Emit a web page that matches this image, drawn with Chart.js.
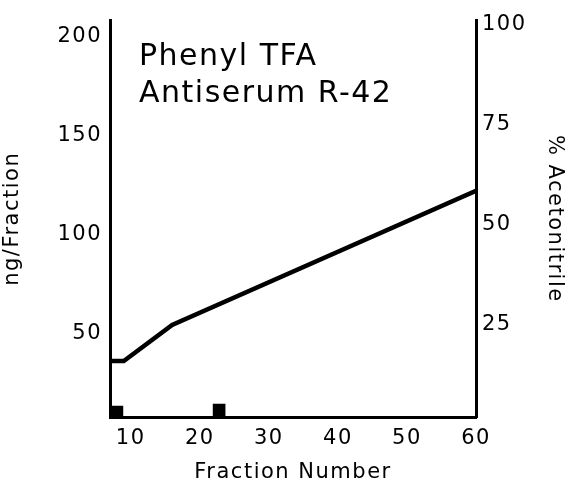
<!DOCTYPE html>
<html>
<head>
<meta charset="utf-8">
<script src="https://cdn.jsdelivr.net/npm/chart.js@4/dist/chart.umd.min.js"></script>
<style>
  html, body { margin: 0; padding: 0; background: #fff; }
  #wrap { width: 567px; height: 491px; }
</style>
</head>
<body>
<div id="wrap"><canvas id="c" width="567" height="491"></canvas></div>
<script>
// Fraction numbers and measured amounts (ng/Fraction)
const barFractions = [8, 22.8];
const barAmounts = [13.5, 14.5];

// Acetonitrile gradient (% Acetonitrile) by fraction number
const gradFractions = [7, 9, 16, 60];
const gradPercent = [16, 16, 25, 58.5];

// Axis tick labels
const xTicks = [10, 20, 30, 40, 50, 60];
const leftTicks = [50, 100, 150, 200];
const rightTicks = [25, 50, 75, 100];

const titleLines = ['Phenyl TFA', 'Antiserum R-42'];

const FONT = "'DejaVu Sans', sans-serif";
const INK = '#000';

const spacing = {
  id: 'spacing',
  beforeUpdate(chart) { chart.ctx.letterSpacing = '1.5px'; },
  beforeDraw(chart) { chart.ctx.letterSpacing = '1.5px'; }
};

const caption = {
  id: 'caption',
  afterDraw(chart) {
    const { ctx, chartArea } = chart;
    ctx.save();
    ctx.fillStyle = INK;
    ctx.font = '30px ' + FONT;
    ctx.textAlign = 'left';
    ctx.textBaseline = 'alphabetic';
    titleLines.forEach((t, i) => {
      ctx.fillText(t, chartArea.left + 29, chartArea.top + 44 + i * 37);
    });
    ctx.restore();
  }
};

const fixed = (prop, v) => (scale) => { scale[prop] = v; };

new Chart(document.getElementById('c'), {
  type: 'bar',
  data: {
    datasets: [
      {
        type: 'line',
        data: gradFractions.map((x, i) => ({ x, y: gradPercent[i] })),
        yAxisID: 'y1',
        borderColor: INK,
        borderWidth: 4.5,
        pointRadius: 0,
        tension: 0,
        fill: false
      },
      {
        type: 'bar',
        data: barFractions.map((x, i) => ({ x, y: barAmounts[i] })),
        yAxisID: 'y',
        backgroundColor: INK,
        borderWidth: 0,
        barThickness: [6, 12]
      }
    ]
  },
  options: {
    responsive: false,
    animation: false,
    layout: { padding: { top: 15, right: 0, left: 0, bottom: 0 } },
    plugins: { legend: { display: false }, tooltip: { enabled: false } },
    scales: {
      x: {
        type: 'linear',
        min: 7, max: 60,
        offset: false,
        grid: { display: false, drawTicks: false, offset: false },
        border: { color: INK, width: 3 },
        afterBuildTicks: (s) => { s.ticks = xTicks.map(v => ({ value: v })); },
        afterFit: fixed('height', 74),
        ticks: { color: INK, font: { family: FONT, size: 21 }, padding: 9, maxRotation: 0, autoSkip: false },
        title: { display: true, text: 'Fraction Number', color: INK, font: { family: FONT, size: 21 }, padding: { top: 0, bottom: 6 } }
      },
      y: {
        position: 'left',
        min: 8, max: 208,
        grid: { display: false, drawTicks: false },
        border: { color: INK, width: 3 },
        afterBuildTicks: (s) => { s.ticks = leftTicks.map(v => ({ value: v })); },
        afterFit: fixed('width', 110),
        ticks: { color: INK, font: { family: FONT, size: 21 }, padding: 8 },
        title: { display: true, text: 'ng/Fraction', color: INK, font: { family: FONT, size: 21 }, padding: { top: 0, bottom: 0 } }
      },
      y1: {
        position: 'right',
        min: 2, max: 101,
        grid: { display: false, drawTicks: false },
        border: { color: INK, width: 3 },
        afterBuildTicks: (s) => { s.ticks = rightTicks.map(v => ({ value: v })); },
        afterFit: fixed('width', 91),
        ticks: { color: INK, font: { family: FONT, size: 21 }, padding: 6 },
        title: { display: true, text: '% Acetonitrile', color: INK, font: { family: FONT, size: 21 }, padding: { top: 0, bottom: 0 } }
      }
    }
  },
  plugins: [spacing, caption]
});
</script>
</body>
</html>
